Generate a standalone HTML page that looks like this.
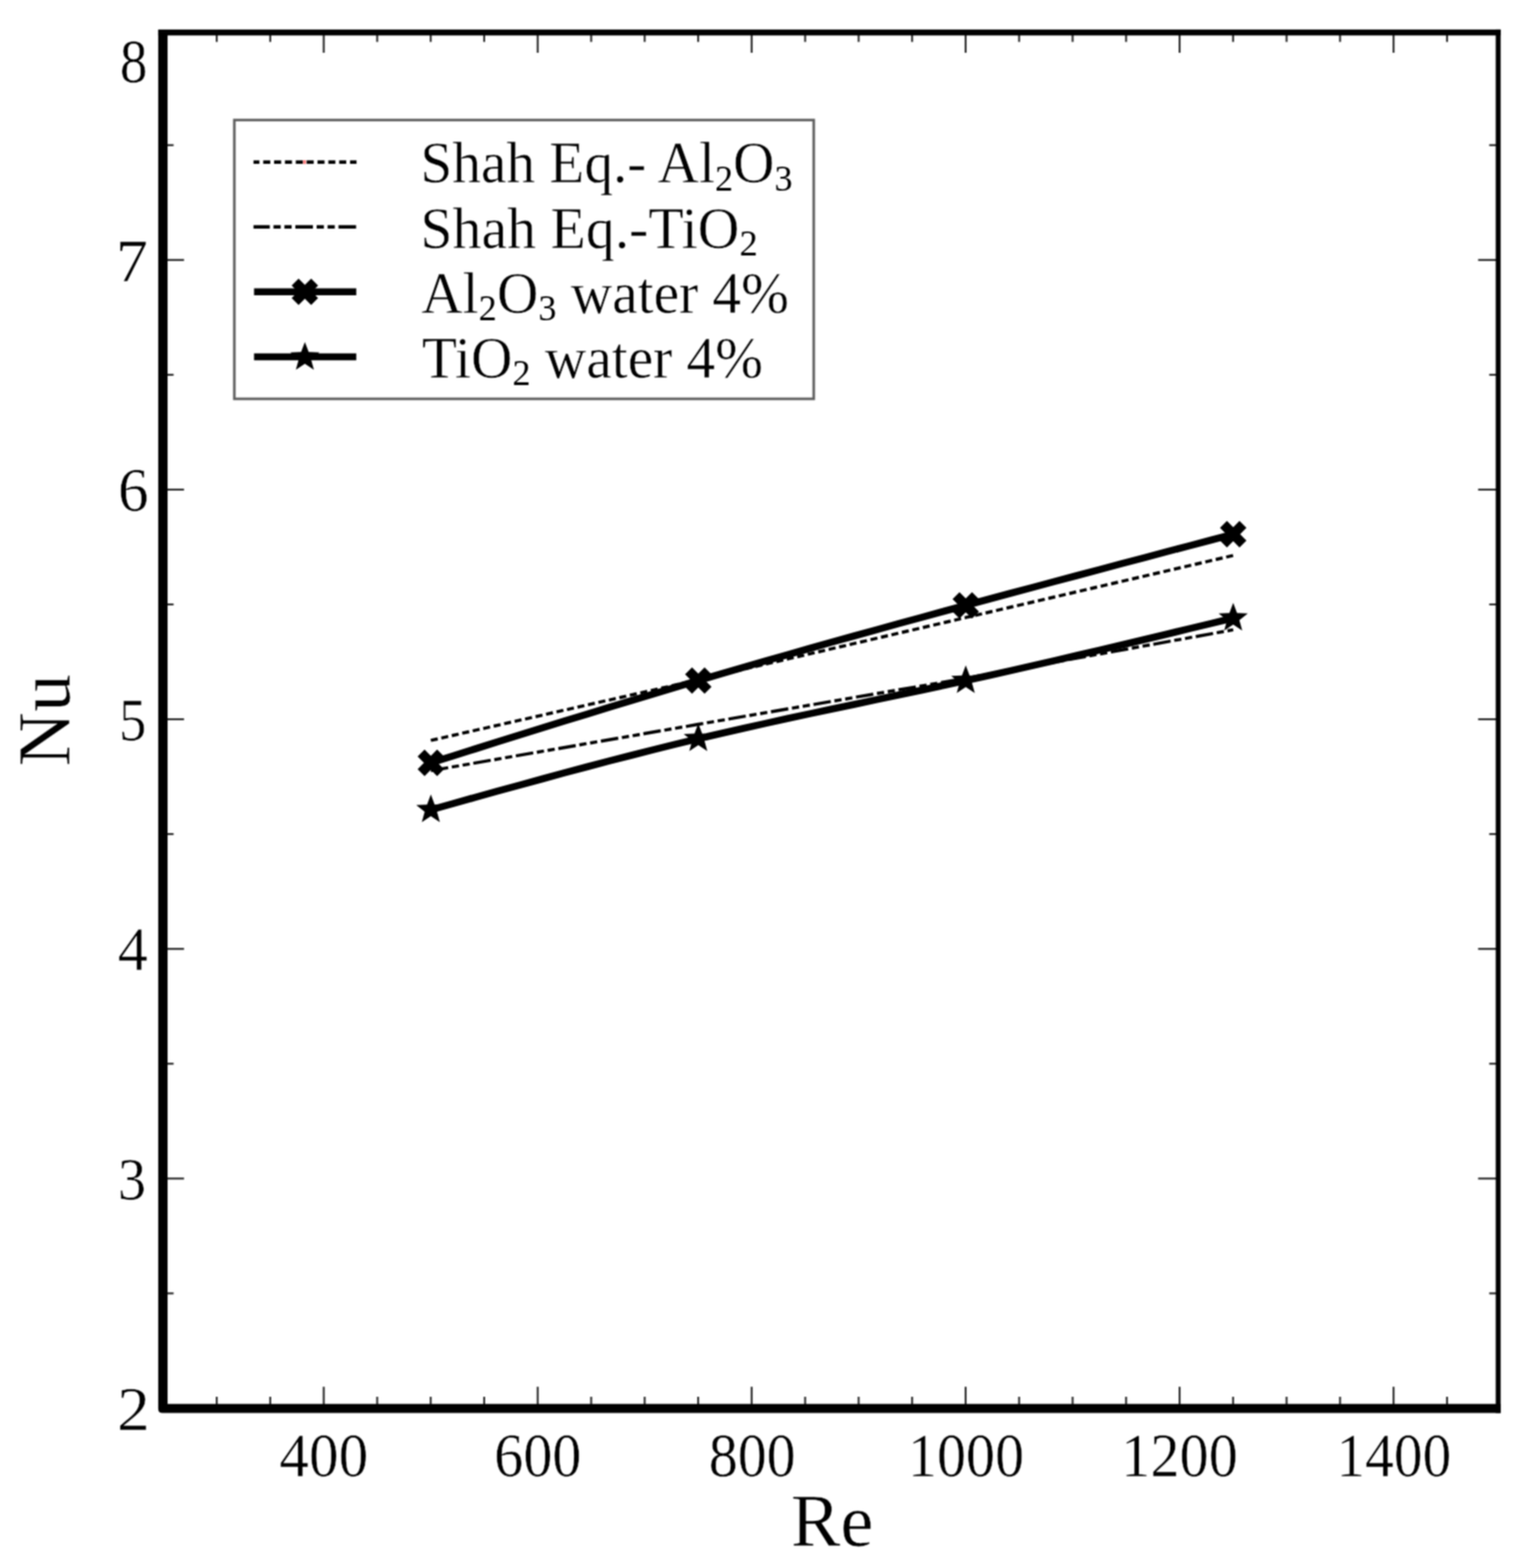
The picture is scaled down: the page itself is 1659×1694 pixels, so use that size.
<!DOCTYPE html>
<html lang="en">
<head>
<meta charset="utf-8">
<title>Nu vs Re</title>
<style>
html,body{margin:0;padding:0;background:#fff;}
body{width:1659px;height:1694px;overflow:hidden;font-family:"Liberation Serif","DejaVu Serif",serif;}
svg{display:block;}
</style>
</head>
<body>
<svg width="1659" height="1694" viewBox="0 0 1659 1694" role="img" aria-label="Nu versus Re chart">
<defs><filter id="soft" x="0" y="0" width="1659" height="1694" filterUnits="userSpaceOnUse" color-interpolation-filters="sRGB"><feConvolveMatrix order="3" kernelMatrix="1 2 1 2 4 2 1 2 1" divisor="16" edgeMode="duplicate" preserveAlpha="true"/></filter></defs>
<g filter="url(#soft)">
<rect x="0" y="0" width="1659" height="1694" fill="#fff"/>
<g stroke="#2a2a2a" stroke-width="2.1" fill="none">
<line x1="234.10" y1="37.3" x2="234.10" y2="45.3"/>
<line x1="234.10" y1="1517.85" x2="234.10" y2="1509.0"/>
<line x1="291.88" y1="37.3" x2="291.88" y2="45.3"/>
<line x1="291.88" y1="1517.85" x2="291.88" y2="1509.0"/>
<line x1="349.65" y1="37.3" x2="349.65" y2="57.0"/>
<line x1="349.65" y1="1517.85" x2="349.65" y2="1498.2"/>
<line x1="407.42" y1="37.3" x2="407.42" y2="45.3"/>
<line x1="407.42" y1="1517.85" x2="407.42" y2="1509.0"/>
<line x1="465.20" y1="37.3" x2="465.20" y2="45.3"/>
<line x1="465.20" y1="1517.85" x2="465.20" y2="1509.0"/>
<line x1="522.97" y1="37.3" x2="522.97" y2="45.3"/>
<line x1="522.97" y1="1517.85" x2="522.97" y2="1509.0"/>
<line x1="580.75" y1="37.3" x2="580.75" y2="57.0"/>
<line x1="580.75" y1="1517.85" x2="580.75" y2="1498.2"/>
<line x1="638.52" y1="37.3" x2="638.52" y2="45.3"/>
<line x1="638.52" y1="1517.85" x2="638.52" y2="1509.0"/>
<line x1="696.30" y1="37.3" x2="696.30" y2="45.3"/>
<line x1="696.30" y1="1517.85" x2="696.30" y2="1509.0"/>
<line x1="754.08" y1="37.3" x2="754.08" y2="45.3"/>
<line x1="754.08" y1="1517.85" x2="754.08" y2="1509.0"/>
<line x1="811.85" y1="37.3" x2="811.85" y2="57.0"/>
<line x1="811.85" y1="1517.85" x2="811.85" y2="1498.2"/>
<line x1="869.62" y1="37.3" x2="869.62" y2="45.3"/>
<line x1="869.62" y1="1517.85" x2="869.62" y2="1509.0"/>
<line x1="927.40" y1="37.3" x2="927.40" y2="45.3"/>
<line x1="927.40" y1="1517.85" x2="927.40" y2="1509.0"/>
<line x1="985.17" y1="37.3" x2="985.17" y2="45.3"/>
<line x1="985.17" y1="1517.85" x2="985.17" y2="1509.0"/>
<line x1="1042.95" y1="37.3" x2="1042.95" y2="57.0"/>
<line x1="1042.95" y1="1517.85" x2="1042.95" y2="1498.2"/>
<line x1="1100.72" y1="37.3" x2="1100.72" y2="45.3"/>
<line x1="1100.72" y1="1517.85" x2="1100.72" y2="1509.0"/>
<line x1="1158.50" y1="37.3" x2="1158.50" y2="45.3"/>
<line x1="1158.50" y1="1517.85" x2="1158.50" y2="1509.0"/>
<line x1="1216.28" y1="37.3" x2="1216.28" y2="45.3"/>
<line x1="1216.28" y1="1517.85" x2="1216.28" y2="1509.0"/>
<line x1="1274.05" y1="37.3" x2="1274.05" y2="57.0"/>
<line x1="1274.05" y1="1517.85" x2="1274.05" y2="1498.2"/>
<line x1="1331.82" y1="37.3" x2="1331.82" y2="45.3"/>
<line x1="1331.82" y1="1517.85" x2="1331.82" y2="1509.0"/>
<line x1="1389.60" y1="37.3" x2="1389.60" y2="45.3"/>
<line x1="1389.60" y1="1517.85" x2="1389.60" y2="1509.0"/>
<line x1="1447.38" y1="37.3" x2="1447.38" y2="45.3"/>
<line x1="1447.38" y1="1517.85" x2="1447.38" y2="1509.0"/>
<line x1="1505.15" y1="37.3" x2="1505.15" y2="57.0"/>
<line x1="1505.15" y1="1517.85" x2="1505.15" y2="1498.2"/>
<line x1="1562.92" y1="37.3" x2="1562.92" y2="45.3"/>
<line x1="1562.92" y1="1517.85" x2="1562.92" y2="1509.0"/>
<line x1="180.0" y1="1397.30" x2="187.5" y2="1397.30"/>
<line x1="1616.5" y1="1397.30" x2="1608.5" y2="1397.30"/>
<line x1="180.0" y1="1273.25" x2="198.75" y2="1273.25"/>
<line x1="1616.5" y1="1273.25" x2="1596.5" y2="1273.25"/>
<line x1="180.0" y1="1149.20" x2="187.5" y2="1149.20"/>
<line x1="1616.5" y1="1149.20" x2="1608.5" y2="1149.20"/>
<line x1="180.0" y1="1025.15" x2="198.75" y2="1025.15"/>
<line x1="1616.5" y1="1025.15" x2="1596.5" y2="1025.15"/>
<line x1="180.0" y1="901.10" x2="187.5" y2="901.10"/>
<line x1="1616.5" y1="901.10" x2="1608.5" y2="901.10"/>
<line x1="180.0" y1="777.05" x2="198.75" y2="777.05"/>
<line x1="1616.5" y1="777.05" x2="1596.5" y2="777.05"/>
<line x1="180.0" y1="653.00" x2="187.5" y2="653.00"/>
<line x1="1616.5" y1="653.00" x2="1608.5" y2="653.00"/>
<line x1="180.0" y1="528.95" x2="198.75" y2="528.95"/>
<line x1="1616.5" y1="528.95" x2="1596.5" y2="528.95"/>
<line x1="180.0" y1="404.90" x2="187.5" y2="404.90"/>
<line x1="1616.5" y1="404.90" x2="1608.5" y2="404.90"/>
<line x1="180.0" y1="280.85" x2="198.75" y2="280.85"/>
<line x1="1616.5" y1="280.85" x2="1596.5" y2="280.85"/>
<line x1="180.0" y1="156.80" x2="187.5" y2="156.80"/>
<line x1="1616.5" y1="156.80" x2="1608.5" y2="156.80"/>
</g>
<g fill="#000">
<rect x="170.9" y="31.9" width="1449.90" height="6.40"/>
<rect x="1615.5" y="31.9" width="5.30" height="1494.60"/>
<path d="M170.9 31.9 H181.0 V1516.85 H1620.8 V1526.5 H175.4 Q170.9 1526.5 170.9 1522.0 Z"/>
</g>
<g font-family="'Liberation Serif', 'DejaVu Serif', serif" fill="#000" stroke="#fff" stroke-width="0.5">
<text transform="translate(129.42 89.44) scale(0.9018 1.0331)" font-size="66">8</text>
<text transform="translate(125.29 304.00) scale(1.0476 1.0058)" font-size="66">7</text>
<text transform="translate(127.51 551.74) scale(0.9982 1.0263)" font-size="66">6</text>
<text transform="translate(128.42 799.75) scale(0.8952 1.0058)" font-size="66">5</text>
<text transform="translate(127.22 1047.85) scale(0.9851 1.0093)" font-size="66">4</text>
<text transform="translate(127.27 1295.55) scale(0.9234 0.9989)" font-size="66">3</text>
<text transform="translate(126.42 1544.56) scale(1.0718 1.0266)" font-size="66">2</text>
<text transform="translate(301.85 1595.14) scale(0.9678 1.0217)" font-size="66">400</text>
<text transform="translate(533.75 1595.14) scale(0.9512 1.0217)" font-size="66">600</text>
<text transform="translate(765.39 1595.14) scale(0.9497 1.0217)" font-size="66">800</text>
<text transform="translate(980.49 1595.14) scale(0.9517 1.0217)" font-size="66">1000</text>
<text transform="translate(1211.08 1595.14) scale(0.9542 1.0217)" font-size="66">1200</text>
<text transform="translate(1443.57 1595.14) scale(0.9387 1.0217)" font-size="66">1400</text>
<text transform="translate(854.37 1670.09) scale(1.0140 1.0269)" font-size="79">Re</text>
<text transform="translate(74.50 827.88) rotate(-90) scale(1.0303 1.0077)" font-size="79">Nu</text>
<text transform="translate(454.07 197.3) scale(0.9614 1)" font-size="64.4">Shah Eq.- Al<tspan font-size="40.6" dy="8.6" stroke="none">2</tspan><tspan dy="-8.6">O</tspan><tspan font-size="40.6" dy="8.6" stroke="none">3</tspan></text>
<text transform="translate(454.04 267.6) scale(0.9699 1)" font-size="64.4">Shah Eq.-TiO<tspan font-size="40.6" dy="8.6" stroke="none">2</tspan></text>
<text transform="translate(455.08 337.5) scale(0.9627 1)" font-size="64.4">Al<tspan font-size="40.6" dy="8.6" stroke="none">2</tspan><tspan dy="-8.6">O</tspan><tspan font-size="40.6" dy="8.6" stroke="none">3</tspan><tspan dy="-8.6"> water 4%</tspan></text>
<text transform="translate(455.76 407.6) scale(0.9625 1)" font-size="64.4">TiO<tspan font-size="40.6" dy="8.6" stroke="none">2</tspan><tspan dy="-8.6"> water 4%</tspan></text>
</g>
<polyline points="465.35,799.90 754.23,734.40 1043.10,667.20 1331.97,600.10" fill="none" stroke="#000" stroke-width="3.4" stroke-dasharray="7.6 4"/>
<polyline points="465.35,832.60 754.23,782.50 1043.10,732.80 1331.97,680.40" fill="none" stroke="#000" stroke-width="3.4" stroke-dasharray="19 4 7.8 4 7.8 4"/>
<polyline points="465.35,824.10 489.42,816.55 513.50,809.00 537.57,801.46 561.64,793.94 585.71,786.45 609.79,778.99 633.86,771.56 657.93,764.18 682.01,756.85 706.08,749.57 730.15,742.35 754.22,735.20 778.30,728.12 802.37,721.11 826.44,714.17 850.52,707.29 874.59,700.47 898.66,693.70 922.74,686.98 946.81,680.31 970.88,673.68 994.95,667.09 1019.03,660.53 1043.10,654.00 1067.17,647.50 1091.25,641.02 1115.32,634.57 1139.39,628.13 1163.46,621.71 1187.54,615.31 1211.61,608.92 1235.68,602.55 1259.76,596.18 1283.83,589.81 1307.90,583.46 1331.97,577.10" fill="none" stroke="#000" stroke-width="7.6" stroke-linejoin="round"/>
<polyline points="465.35,874.80 489.42,868.08 513.50,861.37 537.57,854.68 561.64,848.04 585.71,841.46 609.79,834.94 633.86,828.51 657.93,822.18 682.01,815.96 706.08,809.86 730.15,803.90 754.22,798.10 778.30,792.46 802.37,786.96 826.44,781.59 850.52,776.32 874.59,771.14 898.66,766.01 922.74,760.92 946.81,755.85 970.88,750.77 994.95,745.67 1019.03,740.52 1043.10,735.30 1067.17,729.99 1091.25,724.61 1115.32,719.14 1139.39,713.61 1163.46,708.01 1187.54,702.37 1211.61,696.68 1235.68,690.95 1259.76,685.19 1283.83,679.40 1307.90,673.61 1331.97,667.80" fill="none" stroke="#000" stroke-width="7.6" stroke-linejoin="round"/>
<rect x="-14.9" y="-5.3" width="29.8" height="10.6" transform="translate(465.35 824.10) rotate(45)" fill="#000"/><rect x="-14.9" y="-5.3" width="29.8" height="10.6" transform="translate(465.35 824.10) rotate(-45)" fill="#000"/>
<rect x="-14.9" y="-5.3" width="29.8" height="10.6" transform="translate(754.23 735.20) rotate(45)" fill="#000"/><rect x="-14.9" y="-5.3" width="29.8" height="10.6" transform="translate(754.23 735.20) rotate(-45)" fill="#000"/>
<rect x="-14.9" y="-5.3" width="29.8" height="10.6" transform="translate(1043.10 654.00) rotate(45)" fill="#000"/><rect x="-14.9" y="-5.3" width="29.8" height="10.6" transform="translate(1043.10 654.00) rotate(-45)" fill="#000"/>
<rect x="-14.9" y="-5.3" width="29.8" height="10.6" transform="translate(1331.97 577.10) rotate(45)" fill="#000"/><rect x="-14.9" y="-5.3" width="29.8" height="10.6" transform="translate(1331.97 577.10) rotate(-45)" fill="#000"/>
<polygon points="465.35,858.20 469.46,869.14 481.14,869.67 472.01,876.96 475.11,888.23 465.35,881.80 455.59,888.23 458.69,876.96 449.56,869.67 461.24,869.14" fill="#000"/>
<polygon points="754.23,781.50 758.34,792.44 770.01,792.97 760.88,800.26 763.98,811.53 754.23,805.10 744.47,811.53 747.57,800.26 738.44,792.97 750.11,792.44" fill="#000"/>
<polygon points="1043.10,718.70 1047.21,729.64 1058.89,730.17 1049.76,737.46 1052.86,748.73 1043.10,742.30 1033.34,748.73 1036.44,737.46 1027.31,730.17 1038.99,729.64" fill="#000"/>
<polygon points="1331.97,651.20 1336.09,662.14 1347.76,662.67 1338.63,669.96 1341.73,681.23 1331.97,674.80 1322.22,681.23 1325.32,669.96 1316.19,662.67 1327.86,662.14" fill="#000"/>
<rect x="253.1" y="129.7" width="625.8" height="301.2" fill="none" stroke="#606060" stroke-width="2.8"/>
<line x1="273.8" y1="175.1" x2="385.1" y2="175.1" stroke="#000" stroke-width="3.6" stroke-dasharray="7.6 4.12" stroke-dashoffset="1.2"/>
<rect x="327.4" y="173.0" width="3.0" height="4.2" fill="#ff7a7a"/>
<line x1="273.8" y1="245.1" x2="385.1" y2="245.1" stroke="#000" stroke-width="3.6" stroke-dasharray="19 4 7.8 4 7.8 4" stroke-dashoffset="1.4"/>
<line x1="274.4" y1="315.25" x2="384.8" y2="315.25" stroke="#000" stroke-width="7.6"/>
<line x1="274.4" y1="385.5" x2="384.8" y2="385.5" stroke="#000" stroke-width="7.6"/>
<rect x="-14.9" y="-5.3" width="29.8" height="10.6" transform="translate(329.30 315.30) rotate(45)" fill="#000"/><rect x="-14.9" y="-5.3" width="29.8" height="10.6" transform="translate(329.30 315.30) rotate(-45)" fill="#000"/>
<polygon points="329.30,369.40 333.41,380.34 345.09,380.87 335.96,388.16 339.06,399.43 329.30,393.00 319.54,399.43 322.64,388.16 313.51,380.87 325.19,380.34" fill="#000"/>
</g>
</svg>
</body>
</html>
